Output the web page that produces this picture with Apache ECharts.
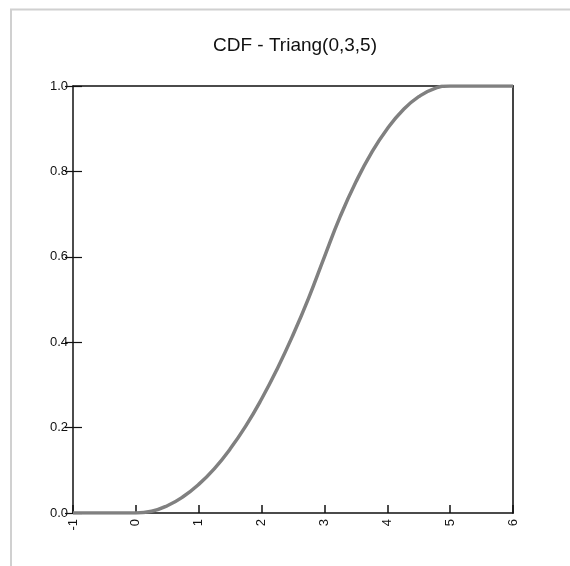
<!DOCTYPE html>
<html>
<head>
    <meta charset="utf-8">
    <title>CDF - Triang(0,3,5)</title>
    <script src="https://cdn.jsdelivr.net/npm/echarts@6/dist/echarts.min.js"></script>
    <style>
        html, body { margin: 0; padding: 0; background: #fff; }
        #chart1 { width: 570px; height: 566px; }
    </style>
</head>
<body>
<div id="chart1"></div>
<script type="text/javascript">
    // values
    var xValues = [-1, 0, 0.25, 0.5, 0.75, 1, 1.25, 1.5, 1.75, 2, 2.25, 2.5, 2.75, 3,
        3.25, 3.5, 3.75, 4, 4.25, 4.5, 4.75, 5, 6];
    var cdfValues = [0, 0, 0.004, 0.017, 0.038, 0.067, 0.104, 0.15, 0.204, 0.267, 0.338, 0.417, 0.504, 0.6,
        0.694, 0.775, 0.844, 0.9, 0.944, 0.975, 0.994, 1, 1];
    var xTicks = [-1, 0, 1, 2, 3, 4, 5, 6];
    var yTicks = [0, 0.2, 0.4, 0.6, 0.8, 1.0];

    var points = xValues.map(function (x, i) { return [x, cdfValues[i]]; });
    var font = 'Liberation Sans, Arial, sans-serif';

    var myChart1 = echarts.init(document.getElementById('chart1'));
    myChart1.setOption({
        animation: false,
        backgroundColor: '#fff',
        title: {
            text: 'CDF - Triang(0,3,5)',
            left: 290, textAlign: 'center', top: 31,
            textStyle: { fontFamily: font, fontSize: 19, fontWeight: 'normal', color: '#111' }
        },
        graphic: [{
            type: 'polyline',
            shape: { points: [[11, 566], [11, 9.5], [570, 9.5]] },
            style: { stroke: '#d0d0d0', lineWidth: 2, fill: null }
        }],
        grid: { left: 73, right: 57, top: 86, bottom: 53 },
        xAxis: [{
            type: 'value', min: -1, max: 6, interval: 1,
            axisLine: { onZero: false, lineStyle: { color: '#111', width: 1.5 } },
            axisTick: { inside: true, length: 8, lineStyle: { color: '#111', width: 1.5 } },
            axisLabel: {
                rotate: 90, margin: 6, color: '#111', fontFamily: font, fontSize: 13,
                formatter: function (v) { return xTicks.indexOf(v) >= 0 ? String(v) : ''; }
            },
            splitLine: { show: false }
        }, {
            type: 'value', position: 'top', min: -1, max: 6,
            axisLine: { onZero: false, lineStyle: { color: '#111', width: 1.5 } },
            axisTick: { show: false }, axisLabel: { show: false }, splitLine: { show: false }
        }],
        yAxis: [{
            type: 'value', min: 0, max: 1, interval: 0.2,
            axisLine: { onZero: false, lineStyle: { color: '#111', width: 1.5 } },
            axisTick: { length: 8, lineStyle: { color: '#111', width: 1.2 } },
            axisLabel: {
                margin: 5, color: '#111', fontFamily: font, fontSize: 13,
                formatter: function (v) { return yTicks.indexOf(Math.round(v * 10) / 10) >= 0 ? v.toFixed(1) : ''; }
            },
            splitLine: { show: false }
        }, {
            type: 'value', position: 'left', min: 0, max: 1, interval: 0.2,
            axisLine: { onZero: false, show: false },
            axisTick: { inside: true, length: 9, lineStyle: { color: '#111', width: 1.2 } },
            axisLabel: { show: false }, splitLine: { show: false }
        }, {
            type: 'value', position: 'right', min: 0, max: 1,
            axisLine: { onZero: false, lineStyle: { color: '#444', width: 2 } },
            axisTick: { show: false }, axisLabel: { show: false }, splitLine: { show: false }
        }],
        series: [{
            type: 'line',
            data: points,
            smooth: true,
            showSymbol: false,
            lineStyle: { color: '#808080', width: 3.5 },
            z: 1
        }]
    });
</script>
</body>
</html>
